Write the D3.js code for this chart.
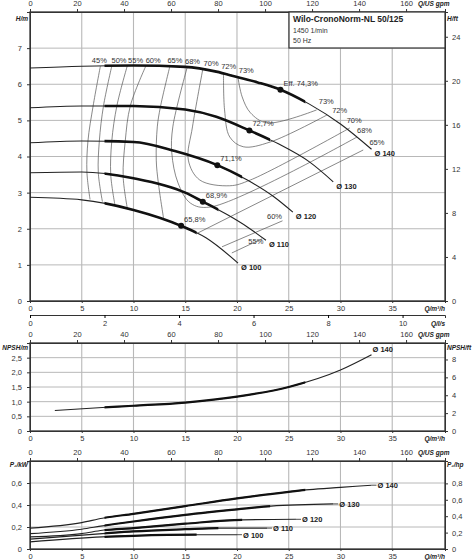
<!DOCTYPE html>
<html lang="en">
<head>
<meta charset="utf-8">
<script src="https://d3js.org/d3.v7.min.js"></script>
<style>
  body { margin: 0; background: #fff; }
  svg text { font-family: "Liberation Sans", Arial, sans-serif; font-size: 7.5px; fill: #333; }
  .b { font-weight: bold; fill: #222; }
  .lab { font-weight: bold; font-style: italic; fill: #222; font-size: 6.5px; }
</style>
</head>
<body>
<script>
// diameters
var diameters = ["Ø 100", "Ø 110", "Ø 120", "Ø 130", "Ø 140"];
// head curves Q [m3/h], H [m]
var headCurves = [
  [[0,2.87],[5,2.8],[10,2.52],[14.6,2.08],[17,1.75],[20.1,1.05]],
  [[0,3.55],[5,3.57],[10,3.4],[15,3.0],[16.7,2.75],[19,2.4],[21,2.05],[22.8,1.68]],
  [[0,4.38],[5,4.43],[10,4.4],[14,4.15],[18.1,3.76],[21,3.35],[23.5,2.9],[25.4,2.46]],
  [[0,5.35],[5,5.4],[10,5.4],[15,5.3],[18,5.1],[21.2,4.72],[24,4.35],[27,3.85],[29.3,3.3]],
  [[0,6.45],[5,6.5],[10,6.52],[15,6.48],[18,6.35],[20,6.2],[22,6.05],[24.2,5.85],[27,5.45],[30,4.9],[33,4.2]]
];
// range of best operation (thick part)
var thickFrom = [7.2, 7.2, 7.2, 7.2, 7.2];
var thickTo = [16.1, 18.2, 20.5, 23.2, 26.6];
// best efficiency points
var bepPoints = [[14.6,2.08],[16.7,2.75],[18.1,3.76],[21.2,4.72],[24.2,5.85]];
var bepLabels = ["65,8%", "68,9%", "71,1%", "72,7%", "Eff. 74,3%"];

// efficiency iso lines
var effLines = [
  [[6.8,6.5],[6.1,5.4],[5.6,4.43],[5.5,3.57],[5.8,2.81]],
  [[7.9,6.5],[7.1,5.4],[6.7,4.43],[6.6,3.55],[7.0,2.75]],
  [[9.4,6.51],[8.4,5.41],[7.9,4.42],[7.8,3.5],[8.2,2.67]],
  [[11.2,6.51],[9.7,5.41],[9.2,4.42],[9.0,3.45],[9.4,2.57]],
  [[13.5,6.48],[12.6,5.37],[12.3,4.82],[12.2,3.9],[12.4,3.27],[12.9,2.3]],
  [[15.2,6.48],[13.8,4.82],[13.7,4.1],[14.3,3.27],[15.5,2.71],[17.4,2.6],[31.6,4.54]],
  [[16.7,6.42],[15.7,4.82],[15.3,3.9],[16.4,3.35],[19.3,3.19],[21.3,3.35],[30.9,4.79]],
  [[18.7,6.27],[18.8,5.29],[19.3,4.54],[20.6,4.27],[23.2,4.4],[28.7,5.15]],
  [[20.1,6.18],[20.5,5.65],[21.3,5.21],[22.9,4.93],[27.7,5.29]],
  [[19.5,1.33],[22.4,1.72]],
  [[18.55,1.5],[24.4,2.22]],
  [[16.2,1.88],[32.2,4.18]]
];
var effTop = ["45%","50%","55%","60%","65%","68%","70%","72%","73%"];
var effTopPos = [[6.7,6.6],[8.6,6.6],[10.2,6.6],[11.9,6.6],[14.0,6.6],[15.7,6.55],[17.5,6.5],[19.2,6.42],[20.9,6.32]];
var effRight = ["73%","72%","70%","68%","65%","60%","55%"];
var effRightPos = [[27.9,5.46],[29.2,5.2],[30.6,4.92],[31.6,4.65],[32.8,4.32],[22.9,2.26],[21.1,1.57]];

// NPSH Ø140
var npsh = [[2.4,0.70],[7,0.80],[10,0.86],[15,0.97],[20,1.17],[25,1.5],[30,2.08],[33,2.6]];

// power curves P2 [kW]
var powerCurves = [
  [[0,0.065],[7,0.11],[10,0.12],[16,0.13],[20,0.13]],
  [[0,0.09],[7,0.14],[10,0.16],[15,0.18],[18.2,0.19],[22.9,0.19]],
  [[0,0.11],[5,0.14],[7,0.17],[10,0.19],[15,0.23],[20.5,0.265],[25.7,0.27]],
  [[0,0.14],[5,0.18],[7,0.21],[10,0.25],[15,0.31],[20,0.36],[23.3,0.39],[29.3,0.41]],
  [[0,0.19],[5,0.24],[7,0.28],[10,0.32],[15,0.39],[20,0.46],[25,0.52],[27,0.54],[30,0.56],[33,0.58]]
];

var qTicks = [0,5,10,15,20,25,30,35];
var gpmTicks = [0,20,40,60,80,100,120,140,160];
var lsTicks = [0,2,4,6,8,10];
var hTicks = [0,1,2,3,4,5,6,7];
var ftTicks = [0,4,8,12,16,20,24];
var npshTicks = [0,0.5,1.0,1.5,2.0,2.5];
var npshFtTicks = [0,2,4,6,8];
var pTicks = [0,0.2,0.4,0.6];
var hpTicks = [0,0.2,0.4,0.6,0.8];

var W = 475, H = 560;
var svg = d3.select("body").append("svg").attr("width", W).attr("height", H);
var L = 30, R = 445;
var x = d3.scaleLinear().domain([0, 40.1]).range([L, R]);
var comma = function(d, n) { return d.toFixed(n).replace(".", ","); };

var panels = [
  { y: d3.scaleLinear().domain([0, 8]).range([301, 12]), ticks: hTicks, fmt: function(d){ return d; },
    conv: 3.281, rticks: ftTicks, rfmt: function(d){ return d; }, lt: "H/m", rt: "H/ft", grid: hTicks, ly: 21, thick: 2.6 },
  { y: d3.scaleLinear().domain([0, 3]).range([431, 343]), ticks: npshTicks, fmt: function(d){ return d === 0 ? "0" : comma(d,1); },
    conv: 3.281, rticks: npshFtTicks, rfmt: function(d){ return d; }, lt: "NPSH/m", rt: "NPSH/ft", grid: npshTicks.slice(1), ly: 350, thick: 2.2 },
  { y: d3.scaleLinear().domain([0, 0.8]).range([549, 461]), ticks: pTicks, fmt: function(d){ return d === 0 ? "0" : comma(d,1); },
    conv: 1.341, rticks: hpTicks, rfmt: function(d){ return d === 0 ? "0" : comma(d,1); }, lt: "P\u2082/kW", rt: "P\u2082/hp", grid: [0.2,0.4,0.6], ly: 467, thick: 2.2 }
];

panels.forEach(function(p) {
  var y0 = p.y.range()[0], y1 = p.y.range()[1];
  var g = svg.append("g");
  // grid
  g.selectAll(".vg").data(qTicks.slice(1)).enter().append("line")
    .attr("x1", x).attr("x2", x).attr("y1", y0).attr("y2", y1)
    .attr("stroke", "#b8b8b8").attr("stroke-width", 1.1);
  g.selectAll(".hg").data(p.grid).enter().append("line")
    .attr("x1", L).attr("x2", R).attr("y1", p.y).attr("y2", p.y)
    .attr("stroke", "#b8b8b8").attr("stroke-width", 1);
  g.append("rect").attr("x", L).attr("y", y1).attr("width", R - L).attr("height", y0 - y1)
    .attr("fill", "none").attr("stroke", "#333").attr("stroke-width", 1.3);
  // left axis
  g.append("g").attr("transform", "translate(" + L + ",0)")
    .call(d3.axisLeft(p.y).tickValues(p.ticks).tickSize(3).tickPadding(5).tickFormat(p.fmt));
  var yr = d3.scaleLinear().domain([p.y.domain()[0] * p.conv, p.y.domain()[1] * p.conv]).range(p.y.range());
  g.append("g").attr("transform", "translate(" + R + ",0)")
    .call(d3.axisRight(yr).tickValues(p.rticks).tickSize(3).tickPadding(4).tickFormat(p.rfmt));
  // top gpm axis
  var xg = d3.scaleLinear().domain([0, 40.1 * 4.403]).range([L, R]);
  g.append("g").attr("transform", "translate(0," + y1 + ")")
    .call(d3.axisTop(xg).tickValues(gpmTicks).tickSize(3));
  g.append("text").attr("class", "lab").attr("x", 418).attr("y", y1 - 6).text("Q/US gpm");
  // bottom m3/h axis
  g.append("g").attr("transform", "translate(0," + y0 + ")")
    .call(d3.axisBottom(x).tickValues(qTicks).tickSize(2));
  g.append("text").attr("class", "lab").attr("x", R).attr("y", y0 + 10).attr("text-anchor", "end").text("Q/m\u00b3/h");
  g.append("text").attr("class", "lab").attr("x", 28).attr("y", p.ly).attr("text-anchor", "end").text(p.lt);
  g.append("text").attr("class", "lab").attr("x", 447).attr("y", p.ly).text(p.rt);
  p.g = g;
});
svg.selectAll(".domain").attr("stroke", "#333");
svg.selectAll(".tick text").attr("fill", "#444").style("font-size", "7.5px");
svg.selectAll(".tick line").attr("stroke", "#333");

// l/s axis
var xls = d3.scaleLinear().domain([0, 40.1 / 3.6]).range([L, R]);
svg.append("g").attr("transform", "translate(0,315)")
  .call(d3.axisBottom(xls).tickValues(lsTicks).tickSize(3))
  .call(function(s){ s.select(".domain").attr("stroke", "#333"); s.selectAll("text").attr("fill", "#444").style("font-size","7.5px"); });
svg.append("text").attr("class", "lab").attr("x", R).attr("y", 326).attr("text-anchor", "end").text("Q/l/s");

// info box
var headPanel = panels[0], yH = headPanel.y, gH = headPanel.g;
gH.append("rect").attr("x", 289).attr("y", 12).attr("width", R - 289).attr("height", 36)
  .attr("fill", "#fff").attr("stroke", "#333").attr("stroke-width", 1.2);
gH.append("text").attr("class", "b").attr("x", 293).attr("y", 22).style("font-size", "8.5px").text("Wilo-CronoNorm-NL 50/125");
gH.append("text").attr("x", 293).attr("y", 33).style("font-size", "7px").text("1450 1/min");
gH.append("text").attr("x", 293).attr("y", 43).style("font-size", "7px").text("50 Hz");

// efficiency lines
var eff = d3.line().x(function(d){ return x(d[0]); }).y(function(d){ return yH(d[1]); }).curve(d3.curveCatmullRom);
gH.selectAll(".eff").data(effLines).enter().append("path")
  .attr("d", eff).attr("fill", "none").attr("stroke", "#555").attr("stroke-width", 0.7);
gH.selectAll(".et").data(effTop).enter().append("text")
  .attr("x", function(d, i){ return x(effTopPos[i][0]); }).attr("y", function(d, i){ return yH(effTopPos[i][1]); })
  .attr("text-anchor", "middle").attr("fill", "#555").text(function(d){ return d; });
gH.selectAll(".er").data(effRight).enter().append("text")
  .attr("x", function(d, i){ return x(effRightPos[i][0]); }).attr("y", function(d, i){ return yH(effRightPos[i][1]); })
  .attr("fill", "#555").text(function(d){ return d; });

// curve drawing helper with thick part
var clipN = 0;
function drawCurves(g, curves, y, from, to, thick) {
  var line = d3.line().x(function(d){ return x(d[0]); }).y(function(d){ return y(d[1]); }).curve(d3.curveMonotoneX);
  curves.forEach(function(c, i) {
    g.append("path").attr("d", line(c)).attr("fill", "none").attr("stroke", "#222").attr("stroke-width", 1.1);
    var id = "clip" + (clipN++);
    g.append("clipPath").attr("id", id).append("rect")
      .attr("x", x(from[i])).attr("width", x(to[i]) - x(from[i])).attr("y", 0).attr("height", H);
    g.append("path").attr("d", line(c)).attr("fill", "none").attr("stroke", "#111")
      .attr("stroke-width", thick).attr("clip-path", "url(#" + id + ")");
  });
}
drawCurves(gH, headCurves, yH, thickFrom, thickTo, panels[0].thick);
headCurves.forEach(function(c, i) {
  var e = c[c.length - 1];
  gH.append("text").attr("class", "b").attr("x", x(e[0]) + 3).attr("y", yH(e[1]) + 7).text(diameters[i]);
});
gH.selectAll(".bep").data(bepPoints).enter().append("circle")
  .attr("cx", function(d){ return x(d[0]); }).attr("cy", function(d){ return yH(d[1]); })
  .attr("r", 3).attr("fill", "#111");
gH.selectAll(".bl").data(bepLabels).enter().append("text")
  .attr("x", function(d, i){ return x(bepPoints[i][0]) + 3; }).attr("y", function(d, i){ return yH(bepPoints[i][1]) - 4; })
  .attr("fill", "#555").text(function(d){ return d; });

// NPSH
var pN = panels[1];
drawCurves(pN.g, [npsh], pN.y, [7.2], [26.6], pN.thick);
var nE = npsh[npsh.length - 1];
pN.g.append("text").attr("class", "b").attr("x", x(nE[0]) + 1).attr("y", pN.y(nE[1]) - 3).text("Ø 140");

// power
var pP = panels[2];
drawCurves(pP.g, powerCurves, pP.y, thickFrom, thickTo, pP.thick);
powerCurves.forEach(function(c, i) {
  var e = c[c.length - 1];
  pP.g.append("line").attr("x1", x(e[0])).attr("x2", x(e[0]) + 5).attr("y1", pP.y(e[1])).attr("y2", pP.y(e[1]))
    .attr("stroke", "#222").attr("stroke-width", 0.8);
  pP.g.append("text").attr("class", "b").attr("x", x(e[0]) + 6).attr("y", pP.y(e[1]) + 3).text(diameters[i]);
});
</script>
</body>
</html>
